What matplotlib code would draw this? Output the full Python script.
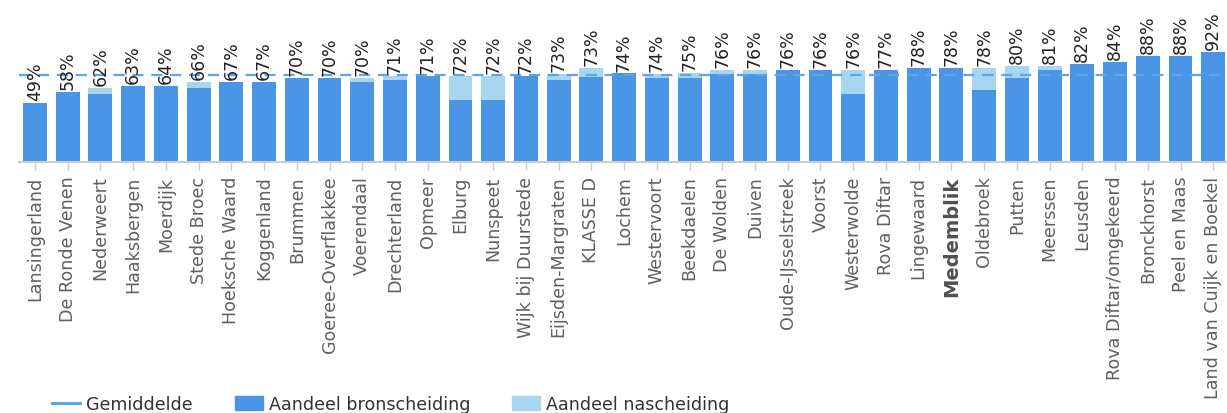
import numpy as np
import matplotlib.pyplot as plt
from matplotlib.lines import Line2D
from matplotlib.patches import Patch

gemeenten = ['Lansingerland', 'De Ronde Venen', 'Nederweert', 'Haaksbergen', 'Moerdijk',
             'Stede Broec', 'Hoeksche Waard', 'Koggenland', 'Brummen', 'Goeree-Overflakkee',
             'Voerendaal', 'Drechterland', 'Opmeer', 'Elburg', 'Nunspeet', 'Wijk bij Duurstede',
             'Eijsden-Margraten', 'KLASSE D', 'Lochem', 'Westervoort', 'Beekdaelen', 'De Wolden',
             'Duiven', 'Oude-IJsselstreek', 'Voorst', 'Westerwolde', 'Rova Diftar', 'Lingewaard',
             'Medemblik', 'Oldebroek', 'Putten', 'Meerssen', 'Leusden', 'Rova Diftar/omgekeerd',
             'Bronckhorst', 'Peel en Maas', 'Land van Cuijk en Boekel']

bronscheiding = [49.0, 58.2, 56.4, 63.3, 63.5, 61.4, 66.4, 66.4, 69.8, 69.8,
                 66.4, 68.1, 71.4, 51.4, 51.4, 71.4, 68.1, 70.2, 73.6, 69.8,
                 69.8, 73.1, 73.1, 76.4, 76.4, 56.4, 76.4, 78.1, 78.1, 59.8,
                 69.8, 76.4, 81.4, 83.1, 88.1, 88.1, 91.4]
nascheiding = [0, 0, 5.0, 0, 0, 5.0, 0, 0, 0, 0,
               3.3, 3.3, 0, 20.0, 20.0, 0, 5.0, 7.9, 0, 3.3,
               4.2, 3.3, 3.3, 0, 0, 20.0, 0, 0, 0, 18.3,
               10.0, 3.4, 0, 0, 0, 0, 0]
labels = ['49%', '58%', '62%', '63%', '64%', '66%', '67%', '67%', '70%', '70%',
          '70%', '71%', '71%', '72%', '72%', '72%', '73%', '73%', '74%', '74%',
          '75%', '76%', '76%', '76%', '76%', '76%', '77%', '78%', '78%', '78%',
          '80%', '81%', '82%', '84%', '88%', '88%', '92%']
gemiddelde = 72.5
highlight = 'Medemblik'

dark = '#4a95e6'
light = '#a8d5f0'
avg_color = '#5ea5e8'

bron = np.array(bronscheiding)
nas = np.array(nascheiding)
x = np.arange(len(gemeenten))

fig = plt.figure(figsize=(12.27, 4.14), dpi=100)
ax = fig.add_axes([18.6 / 1227, 1 - 162.7 / 414, 1211 / 1227, 162.7 / 414])

ax.bar(x, bron, width=0.73, color=dark, zorder=2)
ax.bar(x, nas, width=0.73, bottom=bron, color=light, zorder=2)
# dashed average line on top of the bars
ax.axhline(gemiddelde, color=avg_color, lw=1.6, dashes=(5, 3.5), zorder=3)

for xi, top, lab in zip(x, bron + nas, labels):
    ax.annotate(lab, (xi, top), xytext=(0, 2), textcoords='offset points',
                rotation=90, ha='center', va='bottom', fontsize=12.5,
                color='#222222', zorder=4)

ax.set_xlim(-0.5, len(gemeenten) - 0.5)
ax.set_ylim(0, 162.7 / 1.2)
ax.set_yticks([])
for s in ['top', 'right', 'left']:
    ax.spines[s].set_visible(False)
ax.spines['bottom'].set_color('#cccccc')
ax.spines['bottom'].set_linewidth(1.5)
ax.spines['bottom'].set_zorder(5)

ax.set_xticks(x)
ax.set_xticklabels(gemeenten, rotation=90, fontsize=12.6, color='#606060')
ax.tick_params(axis='x', length=6, width=1, color='#cccccc', pad=4)
for t in ax.get_xticklabels():
    if t.get_text() == highlight:
        t.set_fontweight('bold')
        t.set_fontsize(14)
        t.set_color('#505050')

handles = [Line2D([0], [0], color=avg_color, lw=2.2),
           Patch(color=dark), Patch(color=light)]
fig.legend(handles, ['Gemiddelde', 'Aandeel bronscheiding', 'Aandeel nascheiding'],
           loc='center left', bbox_to_anchor=(52 / 1227, 1 - 405 / 414), ncol=3,
           frameon=False, fontsize=12.6, borderpad=0, borderaxespad=0,
           handlelength=1.6, handleheight=0.8, handletextpad=0.35,
           columnspacing=2.4, labelcolor='#333333')

fig.savefig('out.png', dpi=100)
